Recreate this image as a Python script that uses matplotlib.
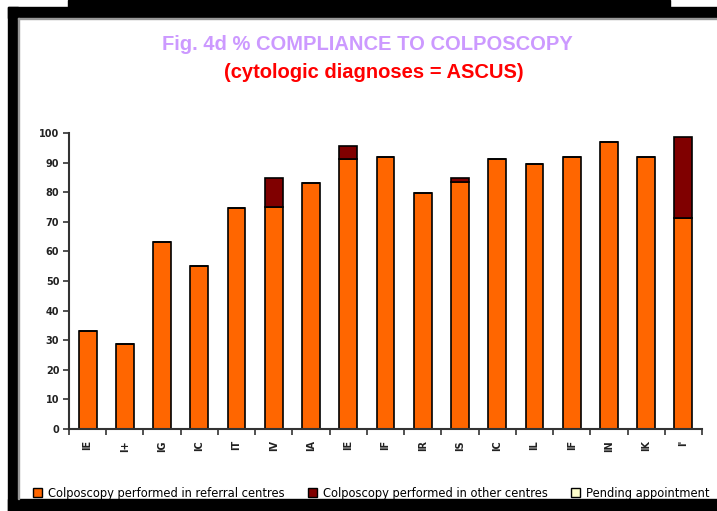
import numpy as np
import matplotlib
matplotlib.use('Agg')
import matplotlib.pyplot as plt
from matplotlib.patches import Rectangle, Patch

# centre codes (rotated labels under the bars)
centres = ["IE", "I+", "IG", "IC", "IT", "IV", "IA", "IE", "IF", "IR",
           "IS", "IC", "IL", "IF", "IN", "IK", "I'"]
referral = [33.1, 28.6, 63.3, 55.1, 74.7, 75.1, 83.0, 91.1, 91.8, 79.8,
            83.5, 91.2, 89.4, 91.8, 96.9, 91.8, 71.4]
other = [0, 0, 0, 0, 0, 9.6, 0, 4.6, 0, 0,
         1.4, 0, 0, 0, 0, 0, 27.4]
pending = [0] * 17
series_names = ["Colposcopy performed in referral centres",
                "Colposcopy performed in other centres",
                "Pending appointment"]
series_colors = ['#FF6600', '#800000', '#FFFFCC']
yticks = [0, 10, 20, 30, 40, 50, 60, 70, 80, 90, 100]

W, H = 717, 511
fig = plt.figure(figsize=(W / 100, H / 100), dpi=100)
fig.patch.set_facecolor('white')

# black frame around the picture
def px_rect(x0, y0, x1, y1, **kw):
    fig.patches.append(Rectangle((x0 / W, 1 - y1 / H), (x1 - x0) / W, (y1 - y0) / H,
                                 transform=fig.transFigure, figure=fig, **kw))

px_rect(68, 0, 670, 8, color='black')
px_rect(8, 7, 717, 18, color='black')
px_rect(8, 7, 18, 511, color='black')
px_rect(8, 499, 717, 511, color='black')
px_rect(18, 18, 717, 19, color='#999999')
px_rect(18, 18, 19, 499, color='#999999')

ax = fig.add_axes([69 / W, 1 - 429 / H, (702 - 69) / W, (429 - 133) / H])
x = np.arange(len(centres))
bw = 0.48
edge = dict(edgecolor='black', linewidth=1.2)
ax.bar(x, referral, bw, color=series_colors[0], **edge)
bottom2 = np.array(referral)
ax.bar(x, other, bw, bottom=bottom2, color=series_colors[1], **edge)
bottom3 = bottom2 + np.array(other)
ax.bar(x, pending, bw, bottom=bottom3, color=series_colors[2], linewidth=0)

ax.set_xlim(-0.5, len(centres) - 0.5)
ax.set_ylim(0, 100)
ax.set_yticks(yticks)
ax.set_yticklabels([str(v) for v in yticks], fontsize=7, fontweight='bold', color='#222222')
ax.set_xticks(np.arange(len(centres) + 1) - 0.5)
ax.set_xticklabels([])
ax.set_xticks(x, minor=True)
ax.set_xticklabels(centres, minor=True, rotation=90, fontsize=7, fontweight='bold',
                   color='#222222')
ax.tick_params(axis='x', which='minor', length=0, pad=8)
ax.tick_params(axis='x', which='major', length=4, width=1.2, direction='out', color='#333333')
ax.tick_params(axis='y', length=4, width=1.2, direction='out', color='#333333', pad=3)
for s in ['top', 'right']:
    ax.spines[s].set_visible(False)
for s in ['left', 'bottom']:
    ax.spines[s].set_linewidth(1.5)
    ax.spines[s].set_color('#333333')

fig.text(367 / W, 1 - 44 / H, "Fig. 4d % COMPLIANCE TO COLPOSCOPY",
         ha='center', va='center', fontsize=14.5, fontweight='bold',
         color='#CC99FF', family='Liberation Sans')
fig.text(374 / W, 1 - 73 / H, "(cytologic diagnoses = ASCUS)",
         ha='center', va='center', fontsize=14.5, fontweight='bold',
         color='#FF0000', family='Liberation Sans')

handles = [Patch(facecolor=c, edgecolor='black', linewidth=1.0) for c in series_colors]
fig.legend(handles, series_names, loc='center', bbox_to_anchor=(371 / W, 1 - 493 / H),
           ncol=3, frameon=False, fontsize=8.3, handlelength=0.8, handleheight=0.8,
           handletextpad=0.5, columnspacing=2.0, borderaxespad=0)

fig.savefig('out.png', dpi=100)
